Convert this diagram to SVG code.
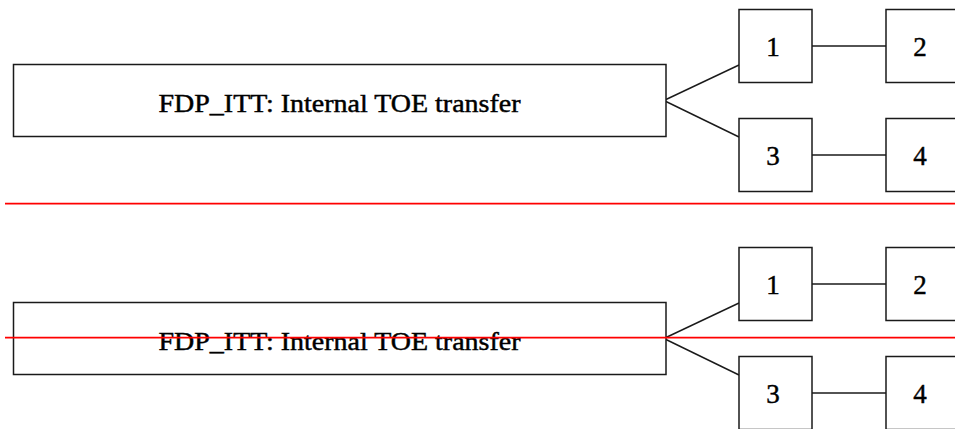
<svg xmlns="http://www.w3.org/2000/svg" width="955" height="429" viewBox="0 0 955 429">
<style>
.box{fill:#fff;stroke:#1a1a1a;stroke-width:1.5}
.lbl{font-family:"Liberation Serif","Times New Roman",serif;fill:#000;stroke:#000;stroke-width:0.45;text-anchor:middle}
.main{font-size:25px}
.num{font-size:27px}
.conn line{stroke:#1a1a1a;stroke-width:1.4}
.red{stroke:#f00;stroke-width:1.8}
</style>
<rect width="955" height="429" fill="#fff"/>
<g class="conn" id="connectors">
<line x1="666" y1="99.5" x2="739" y2="65"/>
<line x1="666" y1="101.5" x2="739" y2="137"/>
<line x1="812" y1="46" x2="886" y2="46"/>
<line x1="812" y1="155" x2="886" y2="155"/>
<line x1="666" y1="337.5" x2="739" y2="303"/>
<line x1="666" y1="339.5" x2="739" y2="375"/>
<line x1="812" y1="284" x2="886" y2="284"/>
<line x1="812" y1="393" x2="886" y2="393"/>
</g>
<g id="top-main"><rect class="box" x="13.5" y="64.5" width="652.5" height="72"/><text class="lbl main" x="339.5" y="112" textLength="362" lengthAdjust="spacingAndGlyphs">FDP_ITT: Internal TOE transfer</text></g>
<g id="top-n1"><rect class="box" x="739" y="9.5" width="73" height="73"/><text class="lbl num" x="773" y="56">1</text></g>
<g id="top-n2"><rect class="box" x="886" y="9.5" width="73" height="73"/><text class="lbl num" x="920" y="56">2</text></g>
<g id="top-n3"><rect class="box" x="739" y="118.5" width="73" height="73"/><text class="lbl num" x="773" y="165">3</text></g>
<g id="top-n4"><rect class="box" x="886" y="118.5" width="73" height="73"/><text class="lbl num" x="920" y="165">4</text></g>
<line class="red" x1="5" y1="203.7" x2="955" y2="203.7"/>
<g id="bot-main"><rect class="box" x="13.5" y="302.5" width="652.5" height="72"/><text class="lbl main" x="339.5" y="350" textLength="362" lengthAdjust="spacingAndGlyphs">FDP_ITT: Internal TOE transfer</text></g>
<g id="bot-n1"><rect class="box" x="739" y="247.5" width="73" height="73"/><text class="lbl num" x="773" y="294">1</text></g>
<g id="bot-n2"><rect class="box" x="886" y="247.5" width="73" height="73"/><text class="lbl num" x="920" y="294">2</text></g>
<g id="bot-n3"><rect class="box" x="739" y="356.5" width="73" height="73"/><text class="lbl num" x="773" y="403">3</text></g>
<g id="bot-n4"><rect class="box" x="886" y="356.5" width="73" height="73"/><text class="lbl num" x="920" y="403">4</text></g>
<line class="red" x1="5" y1="337.7" x2="955" y2="337.7"/>
</svg>
